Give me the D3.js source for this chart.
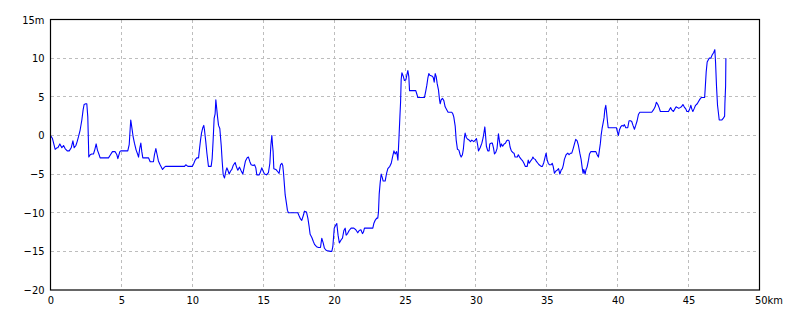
<!DOCTYPE html>
<html>
<head>
<meta charset="utf-8">
<script src="https://cdn.jsdelivr.net/npm/d3@7"></script>
<style>
    body { margin: 0; background: #fff; }
    .tick text { font-family: "Liberation Sans Narrow", "DejaVu Sans Condensed", "Liberation Sans", sans-serif; font-size: 11px; fill: #000; }
</style>
</head>
<body>
<div id="chart"></div>
<script>
// Elevation profile: distance (km) and height (m)
const distanceKm = [
    0.00, 0.14, 0.33, 0.45, 0.52, 0.66, 0.80, 0.92, 1.03, 1.18, 1.32, 1.46, 1.58, 1.67, 1.79, 1.88, 1.97, 2.09, 2.21, 2.30,
    2.37, 2.49, 2.56, 2.63, 2.68, 2.70, 2.80, 2.91, 3.03, 3.13, 3.22, 3.31, 3.43, 3.50, 4.09, 4.23, 4.37, 4.56, 4.68, 4.75,
    4.89, 4.96, 5.45, 5.55, 5.62, 5.66, 5.73, 5.83, 5.92, 6.04, 6.16,
    6.21, 6.30, 6.37, 6.44, 6.51, 6.91, 7.03, 7.26, 7.33, 7.43, 7.52, 7.61, 7.73, 7.90, 8.04, 8.13, 9.45, 9.54, 9.69, 10.01,
    10.11, 10.20, 10.32, 10.44, 10.51, 10.58, 10.65, 10.74, 10.81, 10.86, 10.95, 11.03, 11.14, 11.33, 11.40, 11.47, 11.54, 11.61, 11.66, 11.71,
    11.78, 11.85, 11.94, 12.04, 12.11, 12.18, 12.27, 12.37, 12.44, 12.51, 12.60, 12.70, 12.79,
    12.88, 13.02, 13.12, 13.21, 13.33, 13.45, 13.56, 13.66, 13.75, 13.87, 13.96, 14.06, 14.15, 14.29, 14.39, 14.48, 14.55, 14.72, 14.81, 14.90,
    14.99, 15.09, 15.23, 15.37, 15.47, 15.54, 15.61, 15.66, 15.70, 15.75, 15.89, 16.03, 16.12, 16.22, 16.31, 16.38, 16.43, 16.50, 16.55, 16.64,
    16.71, 16.78, 17.44, 17.53, 17.63, 17.72, 17.84, 17.91, 18.05, 18.15, 18.24, 18.31, 18.43, 18.53, 18.62, 18.76, 18.90, 19.04,
    19.13, 19.23, 19.32, 19.46, 19.75, 19.84, 19.91, 20.01, 20.12, 20.19, 20.28, 20.37, 20.50, 20.59, 20.69, 20.78, 20.85, 20.95, 21.06, 21.20,
    21.39, 21.53, 21.67, 21.77, 21.89, 22.00, 22.07, 22.14, 22.73, 22.80, 22.89, 23.01, 23.08, 23.13, 23.18, 23.25, 23.32, 23.39, 23.46, 23.60,
    23.70, 23.79, 23.93, 24.03, 24.12, 24.22, 24.31, 24.41, 24.50, 24.57, 24.64, 24.69, 24.73, 24.78, 24.87, 24.96, 25.06, 25.13, 25.20, 25.27,
    25.32, 25.76, 25.86, 25.90, 26.37, 26.47, 26.54, 26.61, 26.68, 26.75, 26.89, 26.99, 27.06, 27.13, 27.20, 27.27, 27.36, 27.43, 27.48, 27.55,
    27.64, 27.74, 27.83, 27.95, 28.04, 28.30, 28.37, 28.44, 28.54, 28.61, 28.70, 28.80, 28.89, 28.96, 29.05, 29.12, 29.19, 29.24, 29.33, 29.43,
    29.52, 29.62, 29.71, 29.85, 29.95, 30.04, 30.13, 30.18, 30.30, 30.42, 30.51, 30.58, 30.63, 30.67, 30.74, 30.84, 30.93, 30.98, 31.07, 31.16,
    31.24, 31.31, 31.40, 31.49, 31.59,
    31.66, 31.73, 31.80, 31.89, 31.99, 32.08, 32.17, 32.27, 32.34, 32.41, 32.50, 32.60, 32.69, 32.76, 32.85, 32.92, 32.99, 33.08, 33.20, 33.30,
    33.39, 33.48, 33.62, 33.69, 33.76, 33.86, 33.95, 34.02, 34.09, 34.18, 34.28, 34.37, 34.46, 34.60, 34.69, 34.79, 34.88, 34.95, 35.02, 35.10,
    35.19, 35.31, 35.38, 35.45, 35.54, 35.64, 35.73, 35.83, 35.92, 36.01, 36.10, 36.17, 36.24, 36.36, 36.48, 36.57, 36.67, 36.76, 36.86, 36.95,
    37.04, 37.14, 37.23, 37.33, 37.42, 37.49, 37.56, 37.61, 37.70, 37.77, 37.84, 37.94,
    38.01, 38.10, 38.46, 38.55, 38.64, 38.71, 38.78, 38.83, 38.90, 38.97, 39.04, 39.09, 39.16, 39.21, 39.28, 39.33, 39.91, 39.96, 40.05, 40.12,
    40.21, 40.31, 40.40, 40.47, 40.57, 40.71, 40.80, 40.90, 40.99, 41.08, 41.18, 41.27, 41.37, 41.46, 41.56, 42.40, 42.52, 42.64, 42.73, 42.83,
    42.92, 43.01, 43.58, 43.67, 43.74, 43.81, 43.93, 44.02, 44.12, 44.21, 44.31, 44.40, 44.49, 44.60,
    44.69, 44.81, 44.88, 45.00, 45.09, 45.16, 45.23, 45.30, 45.40, 45.49, 45.61, 45.70, 45.80, 45.89, 46.13, 46.17, 46.24, 46.31, 46.45, 46.57,
    46.66, 46.76, 46.85, 46.90, 46.97, 47.04, 47.11, 47.16, 47.35, 47.44, 47.54, 47.56, 47.61, 47.63
];
const heightM = [
    0.0, -0.4, -1.8, -1.6, -1.6, -1.1, -1.6, -1.3, -1.7, -2.0, -2.0, -1.6, -0.7, -1.6, -1.3, -0.8, -0.2, 0.7, 2.0, 3.3,
    4.0, 4.1, 4.1, 2.4, -1.2, -2.8, -2.5, -2.4, -2.4, -1.8, -1.1, -1.9, -2.5, -2.9, -2.9, -2.5, -2.1, -2.1, -2.5, -3.0,
    -2.1, -2.0, -2.0, -1.2, 0.9, 2.0, 1.1, -0.2, -1.0, -1.9, -2.5,
    -2.8, -1.6, -1.0, -2.1, -2.9, -2.9, -3.4, -3.4, -2.5, -1.7, -2.5, -3.3, -3.8, -4.4, -4.1, -4.0, -4.0, -3.8, -4.0, -4.0,
    -3.6, -3.2, -2.9, -2.9, -1.7, -0.6, 0.3, 1.0, 1.3, 0.7, -0.8, -2.3, -4.0, -4.0, -3.0, -0.6, 2.2, 2.8, 4.6, 3.7,
    2.4, 1.3, 0.9, -1.3, -3.4, -5.1, -5.5, -4.6, -4.2, -4.5, -5.0, -4.6, -4.4,
    -3.9, -3.5, -4.1, -4.5, -4.1, -4.6, -5.0, -4.1, -3.3, -2.9, -2.8, -3.4, -3.8, -3.9, -3.8, -4.2, -5.1, -5.1, -4.7, -4.2,
    -4.6, -5.0, -5.1, -4.8, -3.6, -1.3, 0.0, -1.3, -2.1, -4.3, -4.4, -4.7, -4.9, -3.8, -3.6, -3.9, -4.8, -6.5, -7.7, -8.8,
    -9.7, -10.0, -10.0, -10.4, -10.8, -11.0, -10.3, -9.8, -9.9, -10.7, -11.8, -12.8, -13.2, -13.7, -14.1, -14.4, -14.5, -14.5,
    -13.3, -13.9, -14.6, -14.9, -15.0, -15.0, -14.4, -12.0, -11.6, -11.4, -12.9, -13.9, -13.5, -13.3, -12.3, -12.0, -12.9, -12.7, -12.3, -12.0,
    -12.0, -12.2, -12.6, -12.3, -12.2, -12.7, -12.5, -12.0, -12.0, -11.4, -11.0, -10.7, -10.7, -9.9, -7.6, -6.1, -5.0, -5.4, -5.9, -5.9,
    -4.9, -4.3, -4.0, -3.6, -2.8, -2.0, -2.4, -2.1, -3.2, -0.5, 2.4, 4.4, 7.2, 8.1, 7.7, 7.1, 7.2, 7.8, 8.4, 7.6,
    5.8, 5.8, 5.2, 4.9, 4.9, 5.8, 6.5, 7.4, 8.0, 7.8, 7.7, 7.5, 6.9, 8.0, 7.6, 6.7, 5.9, 4.7, 4.1, 4.6,
    4.8, 4.5, 3.7, 3.3, 3.0, 3.0, 2.8, 2.4, 1.2, -0.6, -1.8, -1.9, -2.5, -2.8, -2.5, -1.7, -0.3, 0.3, -0.3, -0.5,
    -0.6, -0.8, -0.6, -0.8, -0.6, -0.4, -1.3, -2.0, -1.6, -1.0, -0.3, 0.5, 1.1, 0.3, -1.4, -2.0, -2.0, -1.1, -1.0, -1.0,
    -1.6, -2.4, -2.2, -1.7, 0.2,
    -0.7, -1.5, -1.1, -1.4, -1.1, -1.0, -0.7, -0.6, -0.7, -1.5, -2.0, -2.2, -2.3, -2.8, -2.8, -2.8, -2.5, -2.8, -3.1, -3.3,
    -3.6, -4.0, -4.0, -3.2, -3.6, -3.3, -3.1, -2.8, -3.0, -3.1, -3.4, -3.6, -3.8, -4.0, -4.0, -3.5, -2.8, -2.3, -3.1, -3.6,
    -3.8, -3.8, -3.6, -4.0, -4.9, -4.6, -4.5, -4.3, -5.0, -4.5, -4.3, -3.8, -3.1, -2.5, -2.3, -2.5, -2.3, -2.3, -1.7, -1.1,
    -0.5, -0.7, -1.3, -2.3, -3.1, -4.1, -4.9, -4.4, -5.0, -4.4, -4.1, -3.2,
    -2.4, -2.1, -2.1, -2.5, -2.8, -1.9, -1.0, 0.0, 0.9, 1.6, 2.3, 3.3, 3.9, 3.1, 1.8, 1.0, 1.0, 0.6, 0.0, 0.7,
    1.1, 1.3, 1.2, 1.4, 1.0, 1.0, 1.9, 1.9, 1.8, 1.3, 0.8, 1.3, 1.9, 2.7, 3.0, 3.0, 3.3, 3.7, 4.3, 4.0,
    3.6, 3.1, 3.1, 3.4, 3.6, 3.3, 3.1, 3.4, 3.7, 3.6, 3.5, 3.6, 3.7, 4.0,
    3.7, 3.4, 3.1, 3.1, 3.5, 3.9, 3.4, 3.1, 3.5, 3.9, 4.1, 4.4, 4.7, 4.9, 4.9, 6.0, 8.2, 9.5, 10.0, 10.0,
    10.4, 10.7, 11.1, 9.5, 6.3, 3.9, 2.8, 2.0, 2.0, 2.2, 2.5, 4.1, 6.4, 10.0
];
const xTicks = [0, 5, 10, 15, 20, 25, 30, 35, 40, 45, 50];
const yTicks = [-20, -15, -10, -5, 0, 5, 10, 15];

const svgWidth = 800;
const svgHeight = 320;
const margins = { top: 19.5, left: 50.5 };
const chartWidth = 709;
const chartHeight = 270.5;

const svg = d3.select("#chart")
    .append("svg")
    .attr("width", svgWidth)
    .attr("height", svgHeight);

const g = svg.append("g")
    .attr("transform", `translate(${margins.left},${margins.top})`);

const xScale = d3.scaleLinear().domain([0, 50]).range([0, chartWidth]);
const yScale = d3.scaleLinear().domain([-20, 15]).range([chartHeight, 0]);

// dashed grid
g.append("g")
    .selectAll("line.gx")
    .data(xTicks.slice(1, -1))
    .join("line")
    .attr("x1", d => xScale(d)).attr("x2", d => xScale(d))
    .attr("y1", 0).attr("y2", chartHeight);
g.append("g")
    .selectAll("line.gy")
    .data(yTicks.slice(1, -1))
    .join("line")
    .attr("y1", d => yScale(d)).attr("y2", d => yScale(d))
    .attr("x1", 0).attr("x2", chartWidth);
g.selectAll("line")
    .attr("stroke", "#bdbdbd")
    .attr("stroke-width", 1)
    .attr("stroke-dasharray", "3,3")
    .attr("shape-rendering", "crispEdges");

// axes (labels only, frame drawn below)
const xAxis = g.append("g")
    .attr("transform", `translate(0,${chartHeight})`)
    .call(d3.axisBottom(xScale).tickValues(xTicks).tickSize(0).tickPadding(6)
        .tickFormat(d => d === 50 ? "50km" : d));
xAxis.select(".domain").remove();
xAxis.selectAll(".tick text")
    .filter(d => d === 50)
    .attr("text-anchor", "start")
    .attr("x", -5);

const yAxis = g.append("g")
    .call(d3.axisLeft(yScale).tickValues(yTicks).tickSize(0).tickPadding(6)
        .tickFormat(d => d === 15 ? "15m" : d3.format("d")(d)));
yAxis.select(".domain").remove();

// profile line
const line = d3.line()
    .x((d, i) => xScale(distanceKm[i]))
    .y(d => yScale(d));

g.append("path")
    .datum(heightM)
    .attr("fill", "none")
    .attr("stroke", "#0000ff")
    .attr("stroke-width", 1.1)
    .attr("stroke-linejoin", "round")
    .attr("d", line);

// frame
g.append("rect")
    .attr("width", chartWidth)
    .attr("height", chartHeight)
    .attr("fill", "none")
    .attr("stroke", "#000")
    .attr("stroke-width", 1.2);
</script>
</body>
</html>
